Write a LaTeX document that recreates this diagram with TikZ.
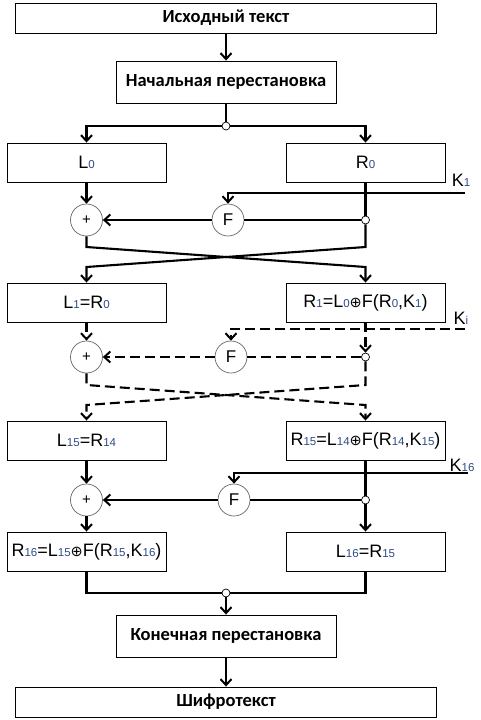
\documentclass[tikz,border=0pt]{standalone}
\usepackage{fontspec}
\setmainfont{Liberation Sans}
\newfontfamily\titlefont{Carlito}
\newfontfamily\symfont{DejaVu Sans}
\usetikzlibrary{arrows.meta,positioning}
\definecolor{idxcol}{RGB}{45,75,135}
\newcommand{\idx}[1]{{\fontsize{11.5}{12}\selectfont\color{idxcol}#1}}
\newcommand{\xor}{{\symfont\fontsize{14.5}{14}\selectfont ⊕}}
\tikzset{
	block/.style = {
			draw, line width = 0.9pt,
			inner sep = 0pt,
			minimum width = 159pt, minimum height = 39pt,
			font = \fontsize{18}{20}\selectfont,
		},
	title/.style = {block, font = \titlefont\bfseries\fontsize{18.5}{20}\selectfont},
	op/.style = {
			circle, draw = gray!80!black, line width = 0.7pt, fill = white,
			minimum size = 32pt, inner sep = 0pt,
			font = \fontsize{17}{17}\selectfont,
		},
	junc/.style = {circle, draw, fill = white, line width = 0.7pt, minimum size = 8pt, inner sep = 0pt},
	link/.style = {line width = 2.1pt},
	flow/.style = {link, -{Straight Barb[length=6pt,width=11pt,line width=2pt]}},
	hop/.style = {dash pattern = on 10pt off 5pt},
	keylab/.style = {font = \fontsize{18}{20}\selectfont, inner sep = 0pt},
}

\begin{document}
\begin{tikzpicture}[x=1pt, y=-1pt]
	\useasboundingbox (0,0) rectangle (481,720);

	% permutations
	\node[title, minimum width=421pt, minimum height=30pt] (src) at (226,18)  {Исходный текст};
	\node[title, minimum width=220pt, minimum height=42pt] (ip)  at (226,82)  {Начальная перестановка};
	\node[junc] (j0) at (226,126) {};

	% round 1
	\node[block] (L0) at (86.5,162.5)  {L\idx{0}};
	\node[block] (R0) at (365.5,162.5) {R\idx{0}};
	\node[keylab] (lk1) at (461,180) {K\idx{1}};
	\coordinate (key1) at (465,193);
	\node[op] (F1) at (228,220) {F};
	\node[op, font=\fontsize{15}{15}\selectfont] (X1) at (86.5,220) {+};
	\node[junc] (j1) at (365.5,220) {};
	\coordinate (a1) at (86.5,247);  \coordinate (b1) at (365.5,247);
	\coordinate (c1) at (86.5,267);  \coordinate (d1) at (365.5,267);

	% round 2
	\node[block] (L1) at (86.5,302.5)  {L\idx{1}=R\idx{0}};
	\node[block] (R1) at (365.5,302.5) {R\idx{1}=L\idx{0}\xor F(R\idx{0},K\idx{1})};
	\node[keylab] (lki) at (461,318) {K\idx{i}};
	\coordinate (key2) at (465,329);
	\node[op] (F2) at (231,357) {F};
	\node[op, font=\fontsize{15}{15}\selectfont] (X2) at (86.5,357) {+};
	\node[junc] (j2) at (365.5,357) {};
	\coordinate (a2) at (86.5,385);  \coordinate (b2) at (365.5,385);
	\coordinate (c2) at (86.5,405);  \coordinate (d2) at (365.5,405);

	% round 16
	\node[block] (L15) at (86.5,440.5)  {L\idx{15}=R\idx{14}};
	\node[block] (R15) at (365.5,440.5) {R\idx{15}=L\idx{14}\xor F(R\idx{14},K\idx{15})};
	\node[keylab] (lk16) at (462,465) {K\idx{16}};
	\coordinate (key3) at (468,473);
	\node[op] (F3) at (234,500) {F};
	\node[op, font=\fontsize{15}{15}\selectfont] (X3) at (86.5,500) {+};
	\node[junc] (j3) at (365.5,500) {};
	\node[block] (R16) at (86.5,551.5)  {R\idx{16}=L\idx{15}\xor F(R\idx{15},K\idx{16})};
	\node[block] (L16) at (365.5,551.5) {L\idx{16}=R\idx{15}};

	\node[junc] (j4) at (226,593) {};
	\node[title, minimum width=220pt, minimum height=42pt] (fp) at (226,636) {Конечная перестановка};
	\node[title, minimum width=421pt, minimum height=30pt] (ct) at (226,702) {Шифротекст};

	\draw[flow] (src) -- (ip);
	\draw[link] (ip) -- (j0);
	\draw[flow] (j0) -| (L0);
	\draw[flow] (j0) -| (R0);

	\draw[flow] (L0) -- (X1);
	\draw[link] (R0) -- (j1);
	\draw[link] (j1) -- (F1);
	\draw[flow] (F1) -- (X1);
	\draw[flow] (key1) -| (F1);
	\draw[flow] (X1) -- (a1) -- (d1) -- (R1);
	\draw[flow] (j1) -- (b1) -- (c1) -- (L1);

	\draw[flow,hop] (L1) -- (X2);
	\draw[flow,hop] (R1) -- (j2);
	\draw[link,hop] (j2) -- (F2);
	\draw[flow,hop] (F2) -- (X2);
	\draw[flow,hop] (key2) -| (F2);
	\draw[flow,hop] (X2) -- (a2) -- (d2) -- (R15);
	\draw[flow,hop] (j2) -- (b2) -- (c2) -- (L15);

	\draw[flow] (L15) -- (X3);
	\draw[link] (R15) -- (j3);
	\draw[link] (j3) -- (F3);
	\draw[flow] (F3) -- (X3);
	\draw[flow] (key3) -| (F3);
	\draw[flow] (X3) -- (R16);
	\draw[flow] (j3) -- (L16);

	\draw[link] (R16) |- (j4);
	\draw[link] (L16) |- (j4);
	\draw[flow] (j4) -- (fp);
	\draw[flow] (fp) -- (ct);
\end{tikzpicture}
\end{document}
